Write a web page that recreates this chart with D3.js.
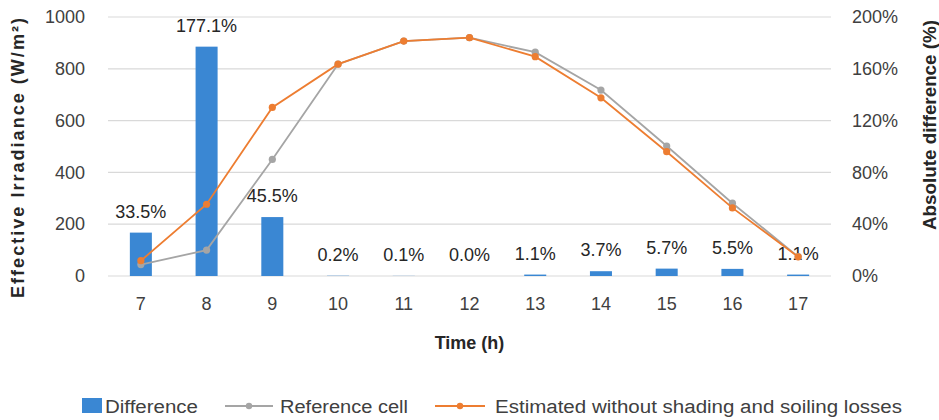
<!DOCTYPE html>
<html>
<head>
<meta charset="utf-8">
<script src="https://cdn.jsdelivr.net/npm/d3@7"></script>
<style>
  html, body { margin: 0; padding: 0; background: #fff; }
  svg { display: block; font-family: "Liberation Sans", Arial, sans-serif; }
</style>
</head>
<body>
<svg id="chart" width="939" height="420"></svg>
<script>
// Hourly data (h)
const hours = [7, 8, 9, 10, 11, 12, 13, 14, 15, 16, 17];
// Absolute difference between the two irradiance series (%)
const differencePct = [33.5, 177.1, 45.5, 0.2, 0.1, 0.0, 1.1, 3.7, 5.7, 5.5, 1.1];
// Effective irradiance measured by the reference cell (W/m²)
const referenceCell = [44, 100, 450, 818, 907, 920, 864, 718, 502, 281, 75];
// Effective irradiance estimated without shading and soiling losses (W/m²)
const estimated = [59, 277, 651, 818, 907, 920, 847, 688, 480, 263, 74];
// Axis ticks
const leftTicks = [0, 200, 400, 600, 800, 1000];
const rightTicks = [0, 40, 80, 120, 160, 200];

const svg = d3.select("#chart");
const plot = { left: 108, right: 831, top: 17, bottom: 276 };

const x = d3.scaleBand()
  .domain(hours)
  .range([plot.left, plot.right])
  .paddingInner(0.665)
  .paddingOuter(0.3325);
const cx = h => x(h) + x.bandwidth() / 2;

const yLeft = d3.scaleLinear().domain([0, 1000]).range([plot.bottom, plot.top]);
const yRight = d3.scaleLinear().domain([0, 200]).range([plot.bottom, plot.top]);

const textColor = "#404040";
const fontSize = 18;

// Gridlines
svg.append("g")
  .selectAll("line")
  .data(leftTicks)
  .join("line")
  .attr("x1", plot.left).attr("x2", plot.right)
  .attr("y1", d => yLeft(d)).attr("y2", d => yLeft(d))
  .attr("stroke", "#d9d9d9").attr("stroke-width", 1.2);

// Left axis
const leftAxis = svg.append("g")
  .attr("transform", `translate(${plot.left},0)`)
  .call(d3.axisLeft(yLeft).tickValues(leftTicks).tickSize(0).tickPadding(23)
    .tickFormat(d3.format("d")));
leftAxis.select(".domain").remove();
leftAxis.selectAll("text")
  .attr("font-size", fontSize).attr("fill", textColor)
  .attr("font-family", "Liberation Sans, Arial, sans-serif");

// Right axis
const rightAxis = svg.append("g")
  .attr("transform", `translate(${plot.right},0)`)
  .call(d3.axisRight(yRight).tickValues(rightTicks).tickSize(0).tickPadding(21)
    .tickFormat(d => d + "%"));
rightAxis.select(".domain").remove();
rightAxis.selectAll("text")
  .attr("font-size", fontSize).attr("fill", textColor)
  .attr("font-family", "Liberation Sans, Arial, sans-serif");

// Bottom axis
const bottomAxis = svg.append("g")
  .attr("transform", `translate(0,${plot.bottom})`)
  .call(d3.axisBottom(x).tickSize(0).tickPadding(21));
bottomAxis.select(".domain").remove();
bottomAxis.selectAll("text")
  .attr("font-size", fontSize).attr("fill", textColor)
  .attr("font-family", "Liberation Sans, Arial, sans-serif");

// Difference bars (right axis)
const rows = hours.map((h, i) => ({
  h, diff: differencePct[i], ref: referenceCell[i], est: estimated[i]
}));

svg.append("g")
  .selectAll("rect")
  .data(rows)
  .join("rect")
  .attr("x", d => x(d.h))
  .attr("width", x.bandwidth())
  .attr("y", d => yRight(d.diff))
  .attr("height", d => plot.bottom - yRight(d.diff))
  .attr("fill", "#3a87d3");

// Bar value labels
svg.append("g")
  .selectAll("text")
  .data(rows)
  .join("text")
  .attr("x", d => cx(d.h))
  .attr("y", d => yRight(d.diff) - 15)
  .attr("text-anchor", "middle")
  .attr("font-size", fontSize)
  .attr("fill", "#262626")
  .text(d => d3.format(".1f")(d.diff) + "%");

// Irradiance lines (left axis)
const series = [
  { key: "ref", color: "#a5a5a5" },
  { key: "est", color: "#ed7d31" }
];
const line = key => d3.line().x(d => cx(d.h)).y(d => yLeft(d[key]));

series.forEach(s => {
  svg.append("path")
    .datum(rows)
    .attr("d", line(s.key))
    .attr("fill", "none")
    .attr("stroke", s.color)
    .attr("stroke-width", 1.8);
  svg.append("g")
    .selectAll("circle")
    .data(rows)
    .join("circle")
    .attr("cx", d => cx(d.h))
    .attr("cy", d => yLeft(d[s.key]))
    .attr("r", 3.6)
    .attr("fill", s.color);
});

// Axis titles
svg.append("text")
  .attr("transform", `translate(24,${(18 + 298) / 2}) rotate(-90)`)
  .attr("text-anchor", "middle")
  .attr("font-size", fontSize).attr("font-weight", "bold").attr("fill", "#262626")
  .attr("textLength", 280).attr("lengthAdjust", "spacing")
  .text("Effective Irradiance (W/m²)");

svg.append("text")
  .attr("transform", `translate(936,125) rotate(-90)`)
  .attr("text-anchor", "middle")
  .attr("font-size", fontSize).attr("font-weight", "bold").attr("fill", "#262626")
  .attr("textLength", 210).attr("lengthAdjust", "spacingAndGlyphs")
  .text("Absolute difference (%)");

svg.append("text")
  .attr("x", cx(12)).attr("y", 349)
  .attr("text-anchor", "middle")
  .attr("font-size", fontSize).attr("font-weight", "bold").attr("fill", "#262626")
  .text("Time (h)");

// Legend
const legend = svg.append("g");
const legendY = 406;
legend.append("rect")
  .attr("x", 82).attr("y", legendY - 8).attr("width", 20).attr("height", 15)
  .attr("fill", "#3a87d3");
legend.append("text")
  .attr("x", 105).attr("y", legendY + 7)
  .attr("font-size", fontSize).attr("fill", textColor)
  .attr("textLength", 93).attr("lengthAdjust", "spacingAndGlyphs")
  .text("Difference");

[
  { x1: 225, x2: 273, color: "#a5a5a5", label: "Reference cell", tx: 280, tw: 128 },
  { x1: 435, x2: 485, color: "#ed7d31", label: "Estimated without shading and soiling losses", tx: 495, tw: 407 }
].forEach(item => {
  legend.append("line")
    .attr("x1", item.x1).attr("x2", item.x2)
    .attr("y1", legendY).attr("y2", legendY)
    .attr("stroke", item.color).attr("stroke-width", 1.8);
  legend.append("circle")
    .attr("cx", (item.x1 + item.x2) / 2).attr("cy", legendY).attr("r", 3.2)
    .attr("fill", item.color);
  legend.append("text")
    .attr("x", item.tx).attr("y", legendY + 7)
    .attr("font-size", fontSize).attr("fill", textColor)
    .attr("textLength", item.tw).attr("lengthAdjust", "spacingAndGlyphs")
    .text(item.label);
});
</script>
</body>
</html>
